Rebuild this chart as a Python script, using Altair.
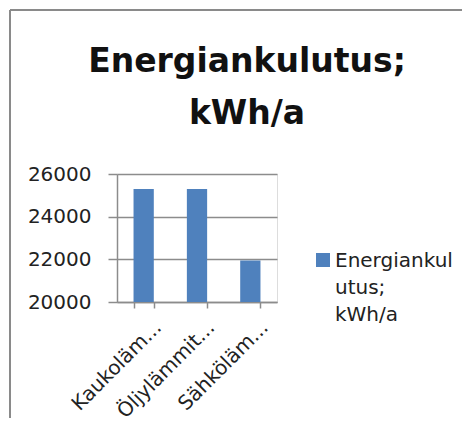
import altair as alt
import pandas as pd

categories = ["Kaukoläm...", "Öljylämmit...", "Sähköläm..."]
values = [25300, 25300, 21950]
series_name = "Energiankulutus; kWh/a"
legend_lines = ["Energiankul", "utus;", "kWh/a"]
y_ticks = [20000, 22000, 24000, 26000]

df = pd.DataFrame({"kategoria": categories, "arvo": values, "sarja": [series_name] * 3})
legend_df = pd.DataFrame({"sarja": [series_name]})

FONT = "DejaVu Sans"
GRID = "#8c8c8c"
TXT = "#222222"
BLUE = "#4F81BD"

bars = alt.Chart(df).mark_bar(color=BLUE, clip=True).encode(
    x=alt.X(
        "kategoria:N",
        sort=categories,
        title=None,
        scale=alt.Scale(paddingInner=0.62, paddingOuter=0.31),
        axis=alt.Axis(
            labelAngle=-45,
            labelFontSize=20,
            labelColor=TXT,
            labelFont=FONT,
            labelOffset=7,
            labelPadding=9,
            tickBand="extent",
            tickSize=6,
            tickColor=GRID,
            domainColor=GRID,
            domainWidth=1.5,
            tickWidth=1.5,
            grid=False,
            labelLimit=0,
        ),
    ),
    y=alt.Y(
        "arvo:Q",
        title=None,
        scale=alt.Scale(domain=[20000, 26000], zero=False, nice=False),
        axis=alt.Axis(
            values=y_ticks,
            format="d",
            labelFontSize=20,
            labelColor=TXT,
            labelFont=FONT,
            labelPadding=17,
            tickSize=9,
            tickColor=GRID,
            tickWidth=1.5,
            domainColor=GRID,
            domainWidth=1.5,
            gridColor=GRID,
            gridWidth=1.5,
        ),
    ),
)

legend_symbol = alt.Chart(legend_df).mark_square(color=BLUE, size=196, opacity=1).encode(
    x=alt.value(206), y=alt.value(86)
)
legend_text = alt.Chart(legend_df).mark_text(
    align="left", baseline="alphabetic", font=FONT, fontSize=20, lineHeight=27, color=TXT
).encode(x=alt.value(218), y=alt.value(93), text=alt.value(legend_lines))

frame_left = alt.Chart(legend_df).mark_rule(color="#8a8a8a", strokeWidth=2).encode(
    x=alt.value(-107), y=alt.value(-164), y2=alt.value(260)
)
frame_top = alt.Chart(legend_df).mark_rule(color="#8a8a8a", strokeWidth=2).encode(
    x=alt.value(-107), x2=alt.value(360), y=alt.value(-164)
)

chart = alt.layer(frame_left, frame_top, bars, legend_symbol, legend_text).properties(
    width=160,
    height=128,
    autosize=alt.AutoSizeParams(type="none"),
    padding={"left": 109, "top": 166, "right": 185, "bottom": 116},
    title=alt.TitleParams(
        text=["Energiankulutus;", "kWh/a"],
        font=FONT,
        fontSize=33,
        fontWeight="bold",
        lineHeight=52,
        color="#111111",
        anchor="middle",
        dx=50,
        dy=142,
        offset=20,
    ),
).configure_view(stroke=None).configure(background="white")

chart.save("out.html", embed_options={"renderer": "svg", "actions": False})
